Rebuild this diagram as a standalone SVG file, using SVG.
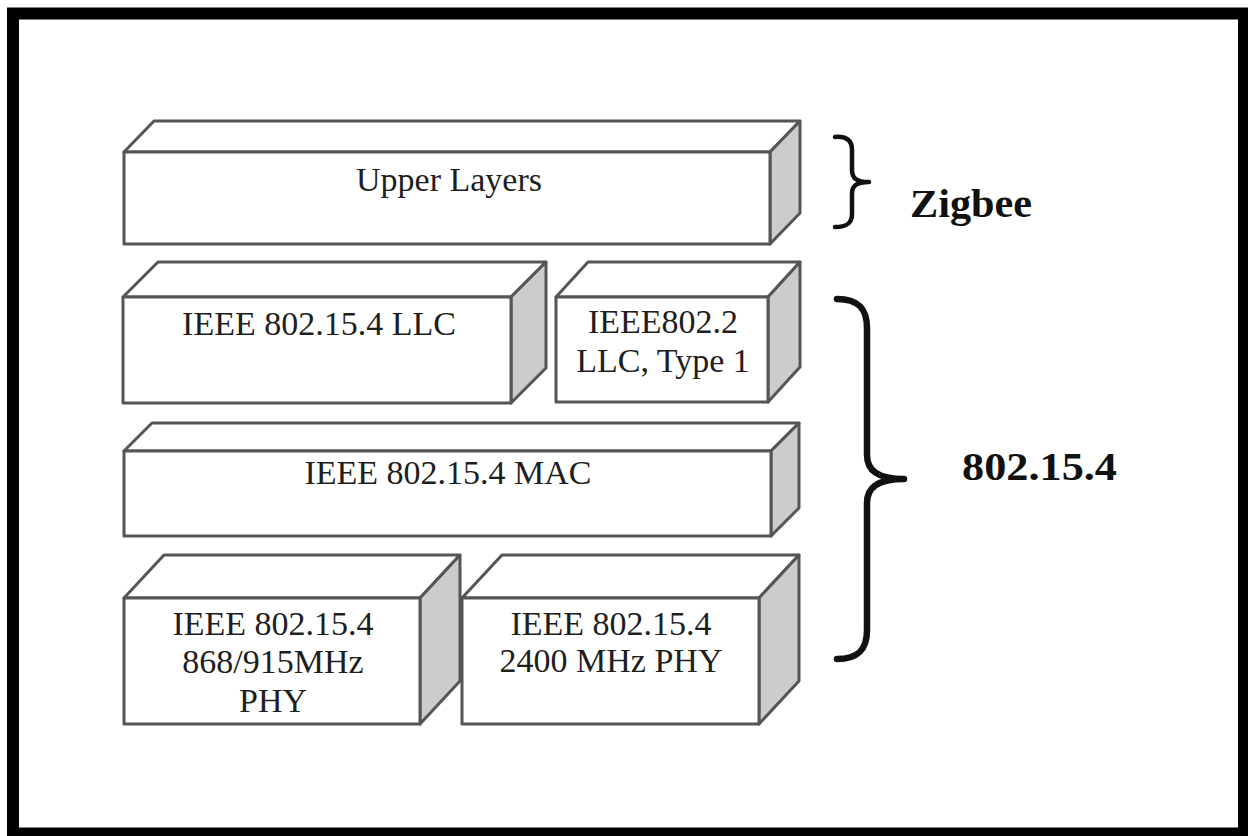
<svg xmlns="http://www.w3.org/2000/svg" width="1248" height="836" viewBox="0 0 1248 836">
<style>
.face{fill:#ffffff;stroke:#555555;stroke-width:3;stroke-linejoin:round}
.side{fill:#cccccc;stroke:#555555;stroke-width:3;stroke-linejoin:round}
.lbl{font-family:"Liberation Serif","Times New Roman",serif;font-size:34px;fill:#1e1e1e;text-anchor:middle}
.big{font-family:"Liberation Serif","Times New Roman",serif;font-size:41px;font-weight:bold;fill:#111111}
.brace{fill:none;stroke:#111111;stroke-linecap:round;stroke-linejoin:round}
</style>
<rect x="0" y="0" width="1248" height="836" fill="#ffffff"/>
<rect x="13" y="13.5" width="1231" height="820" fill="none" stroke="#000000" stroke-width="12"/>

<g id="upper-layers">
<polygon class="face" points="124,152 154,121 800,121 770,152"/>
<polygon class="side" points="770,152 800,121 800,213 770,244"/>
<rect class="face" x="124" y="152" width="646" height="92"/>
<text class="lbl" x="449" y="191" font-size="35">Upper Layers</text>
</g>

<g id="llc">
<polygon class="face" points="123,297 158,262 546,262 511,297"/>
<polygon class="side" points="511,297 546,262 546,368 511,403"/>
<rect class="face" x="123" y="297" width="388" height="106"/>
<text class="lbl" x="319" y="335">IEEE 802.15.4 LLC</text>
</g>

<g id="llc-type1">
<polygon class="face" points="556,297 588,262 800,262 768,297"/>
<polygon class="side" points="768,297 800,262 800,367 768,402"/>
<rect class="face" x="556" y="297" width="212" height="105"/>
<text class="lbl" x="663" y="333">IEEE802.2</text>
<text class="lbl" x="663" y="372">LLC, Type 1</text>
</g>

<g id="mac">
<polygon class="face" points="124,451 152,423 799,423 771,451"/>
<polygon class="side" points="771,451 799,423 799,508 771,536"/>
<rect class="face" x="124" y="451" width="647" height="85"/>
<text class="lbl" x="448" y="484">IEEE 802.15.4 MAC</text>
</g>

<g id="phy-868">
<polygon class="face" points="124,598 164,555 460,555 420,598"/>
<polygon class="side" points="420,598 460,555 460,681 420,724"/>
<rect class="face" x="124" y="598" width="296" height="126"/>
<text class="lbl" x="273" y="635">IEEE 802.15.4</text>
<text class="lbl" x="273" y="673">868/915MHz</text>
<text class="lbl" x="273" y="712">PHY</text>
</g>

<g id="phy-2400">
<polygon class="face" points="462,598 502,555 799,555 759,598"/>
<polygon class="side" points="759,598 799,555 799,681 759,724"/>
<rect class="face" x="462" y="598" width="297" height="126"/>
<text class="lbl" x="611" y="635">IEEE 802.15.4</text>
<text class="lbl" x="611" y="672">2400 MHz PHY</text>
</g>

<g id="connectors">
<path class="brace" stroke-width="4.5" d="M835,137 C846,136 852,140 852,150 L852,170 C852,178 856,182 869,182 C856,182 852,186 852,194 L852,214 C852,224 846,227 835,227"/>
<path class="brace" stroke-width="6.5" d="M837,299 C858,299 867,308 867,328 L867,455 C867,470 877,479 904,479 C877,479 867,488 867,503 L867,630 C867,650 858,659 837,659"/>
</g>

<g id="zigbee">
<text class="big" x="910" y="217" textLength="122" lengthAdjust="spacingAndGlyphs">Zigbee</text>
</g>
<g id="std-802154">
<text class="big" x="962" y="480" font-size="42" textLength="155" lengthAdjust="spacingAndGlyphs">802.15.4</text>
</g>
</svg>
